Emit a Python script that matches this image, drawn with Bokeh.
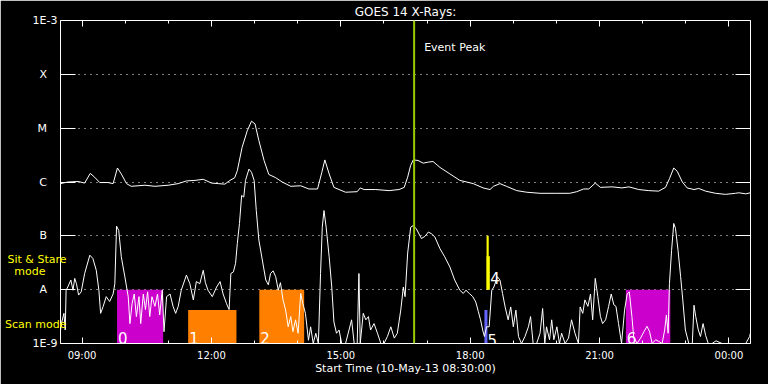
import numpy as np
from bokeh.plotting import figure
from bokeh.models import (Range1d, FixedTicker, LinearAxis, LogAxis,
                          CustomJSTickFormatter, Span, Label)
from bokeh.core.properties import value
from bokeh.embed import file_html
from bokeh.resources import INLINE

# ---------------- data ----------------
title_text = "GOES 14 X-Rays:"
x_label = "Start Time (10-May-13 08:30:00)"
hour_ticks = [9, 12, 15, 18, 21, 24]
hour_labels = ["09:00", "12:00", "15:00", "18:00", "21:00", "00:00"]
minor_hours = list(range(9, 25))
flux_exps = [-9, -8, -7, -6, -5, -4, -3]
flux_labels = ["1E-9", "A", "B", "C", "M", "X", "1E-3"]
grid_exps = [-8, -7, -6, -5, -4]
mode_exps = [-7.435, -7.66, -8.64]
mode_labels = ["Sit & Stare", "mode", "Scan mode"]

# long channel (1-8 A), hours since midnight of 10-May, log10 W/m^2
long_t = [8.50, 8.67, 8.91, 9.06, 9.19, 9.29, 9.41, 9.60, 9.72, 9.82,
          9.91, 10.03, 10.14, 10.46, 10.69, 11.00, 11.23, 11.42, 11.62, 11.81,
          12.00, 12.16, 12.31, 12.43, 12.54, 12.60, 12.71, 12.83, 12.93, 13.01,
          13.10, 13.22, 13.33, 13.49, 13.64, 13.84, 14.07, 14.26, 14.46, 14.56,
          14.63, 14.73, 14.84, 15.11, 15.38, 15.45, 15.54, 15.81, 16.12, 16.35,
          16.47, 16.55, 16.62, 16.68, 16.79, 16.91, 17.03, 17.14, 17.30, 17.53,
          17.76, 18.07, 18.30, 18.46, 18.54, 18.69, 18.84, 19.08, 19.31, 19.62,
          20.01, 20.31, 20.47, 20.63, 20.75, 20.90, 21.02, 21.29, 21.52, 21.68,
          21.91, 22.14, 22.37, 22.53, 22.62, 22.72, 22.80, 22.92, 23.03, 23.19,
          23.30, 23.46, 23.69, 23.92, 24.15, 24.23, 24.39, 24.50]
long_log = [-6.03, -6.00, -5.99, -6.02, -5.84, -5.91, -6.01, -6.01, -6.03, -5.74,
            -5.85, -6.03, -6.08, -6.06, -6.08, -6.06, -6.03, -5.98, -5.97, -5.95,
            -6.02, -6.03, -6.04, -5.97, -5.92, -5.79, -5.36, -5.05, -4.87, -4.92,
            -5.23, -5.60, -5.86, -5.92, -6.00, -6.08, -6.07, -6.13, -6.13, -5.82,
            -5.59, -5.85, -6.10, -6.19, -6.18, -6.11, -6.14, -6.14, -6.16, -6.14,
            -6.10, -5.91, -5.69, -5.59, -5.60, -5.65, -5.63, -5.62, -5.73, -5.85,
            -5.97, -6.03, -6.11, -6.14, -6.08, -6.03, -6.08, -6.16, -6.19, -6.21,
            -6.21, -6.21, -6.18, -6.13, -6.13, -6.02, -6.10, -6.09, -6.11, -6.09,
            -6.14, -6.16, -6.17, -6.10, -5.94, -5.74, -5.80, -6.00, -6.11, -6.14,
            -6.12, -6.17, -6.21, -6.23, -6.21, -6.20, -6.22, -6.20]

# short channel (0.5-4 A)
short_t = [8.50, 8.53, 8.58, 8.61, 8.63, 8.67, 8.74, 8.79, 8.83, 8.87,
           8.92, 8.98, 9.06, 9.18, 9.25, 9.33, 9.39, 9.43, 9.49, 9.56,
           9.64, 9.72, 9.76, 9.80, 9.85, 9.91, 9.99, 10.07, 10.11, 10.16,
           10.21, 10.26, 10.32, 10.36, 10.42, 10.47, 10.52, 10.57, 10.62, 10.69,
           10.75, 10.80, 10.86, 10.90, 10.96, 11.04, 11.11, 11.17, 11.23, 11.30,
           11.42, 11.50, 11.58, 11.65, 11.73, 11.81, 11.86, 11.92, 12.02, 12.12,
           12.20, 12.27, 12.35, 12.41, 12.45, 12.51, 12.56, 12.60, 12.65, 12.70,
           12.75, 12.79, 12.87, 12.93, 12.99, 13.04, 13.10, 13.18, 13.26, 13.32,
           13.37, 13.43, 13.49, 13.55, 13.60, 13.66, 13.72, 13.78, 13.84, 13.89,
           13.95, 14.01, 14.07, 14.12, 14.18, 14.25, 14.30, 14.36, 14.42, 14.48,
           14.53, 14.57, 14.61, 14.66, 14.73, 14.79, 14.84, 14.90, 14.96, 15.02,
           15.11, 15.19, 15.25, 15.31, 15.38, 15.42, 15.45, 15.52, 15.58, 15.64,
           15.69, 15.77, 15.85, 15.93, 16.00, 16.08, 16.16, 16.24, 16.31, 16.39,
           16.45, 16.49, 16.55, 16.62, 16.68, 16.75, 16.87, 16.95, 17.03, 17.10,
           17.18, 17.30, 17.41, 17.53, 17.64, 17.76, 17.84, 17.90, 17.98, 18.06,
           18.13, 18.19, 18.24, 18.29, 18.33, 18.38, 18.44, 18.50, 18.55, 18.63,
           18.69, 18.75, 18.81, 18.88, 18.94, 19.00, 19.06, 19.12, 19.19, 19.27,
           19.35, 19.40, 19.46, 19.54, 19.62, 19.68, 19.73, 19.77, 19.84, 19.89,
           19.94, 20.01, 20.07, 20.12, 20.20, 20.28, 20.35, 20.43, 20.51, 20.55,
           20.61, 20.66, 20.73, 20.79, 20.84, 20.90, 20.96, 21.02, 21.07, 21.14,
           21.21, 21.27, 21.33, 21.38, 21.44, 21.51, 21.58, 21.64, 21.69, 21.75,
           21.79, 21.87, 21.95, 22.03, 22.10, 22.16, 22.22, 22.30, 22.37, 22.45,
           22.51, 22.55, 22.59, 22.62, 22.67, 22.72, 22.76, 22.82, 22.88, 22.93,
           22.99, 23.07, 23.15, 23.19, 23.23, 23.29, 23.34, 23.40, 23.46, 23.52,
           23.61, 23.70, 23.84, 23.96, 24.15, 24.39, 24.48, 24.50]
short_log = [-8.75, -8.60, -8.44, -8.75, -8.01, -7.95, -7.82, -8.01, -7.79, -7.89,
             -8.10, -8.04, -7.70, -7.36, -7.42, -7.64, -8.01, -8.44, -8.31, -8.13,
             -8.22, -8.08, -7.89, -6.82, -6.90, -7.39, -7.75, -8.13, -8.63, -8.26,
             -8.08, -8.50, -8.13, -8.63, -8.08, -8.37, -8.04, -8.50, -8.13, -8.31,
             -8.08, -8.47, -8.01, -8.78, -8.13, -8.08, -8.31, -8.44, -8.31, -8.01,
             -7.73, -7.89, -8.19, -7.85, -7.89, -7.64, -7.87, -8.01, -8.13, -7.95,
             -7.85, -8.08, -8.26, -8.37, -7.70, -7.67, -7.51, -7.14, -6.77, -6.25,
             -6.28, -5.97, -5.76, -5.82, -5.97, -6.53, -7.08, -7.45, -7.82, -7.91,
             -7.70, -7.65, -7.76, -8.01, -7.87, -8.19, -8.38, -8.69, -8.50, -8.78,
             -8.56, -8.81, -8.07, -8.26, -8.44, -8.94, -8.69, -9.00, -8.81, -9.00,
             -7.70, -6.84, -6.53, -6.84, -7.39, -7.95, -8.60, -8.81, -8.75, -9.00,
             -9.00, -8.75, -8.56, -9.00, -9.00, -7.70, -9.00, -8.44, -8.56, -8.50,
             -8.75, -8.63, -8.81, -9.00, -9.00, -8.87, -8.69, -8.90, -8.81, -8.38,
             -7.95, -8.13, -7.32, -6.84, -6.81, -6.87, -7.05, -7.01, -6.93, -6.96,
             -7.02, -7.24, -7.39, -7.58, -7.82, -8.01, -8.07, -8.01, -8.07, -8.13,
             -8.23, -8.41, -8.56, -8.75, -8.87, -8.69, -8.69, -8.01, -7.95, -7.76,
             -7.82, -8.07, -8.32, -8.56, -8.32, -8.69, -8.38, -8.87, -9.00, -8.87,
             -8.69, -8.50, -9.00, -9.00, -8.81, -8.35, -9.00, -8.69, -8.93, -8.56,
             -8.93, -8.69, -9.00, -8.81, -9.00, -8.90, -8.56, -8.81, -9.00, -8.32,
             -8.44, -8.19, -8.31, -8.08, -8.56, -7.79, -8.13, -8.50, -8.63, -8.56,
             -8.31, -8.08, -8.28, -8.31, -8.63, -9.00, -8.38, -8.08, -8.04, -8.50,
             -8.87, -9.00, -8.90, -8.78, -8.68, -8.78, -9.00, -8.93, -8.96, -9.00,
             -8.75, -8.47, -8.81, -7.89, -7.27, -6.77, -6.86, -7.27, -7.76, -8.19,
             -8.75, -9.00, -9.00, -8.29, -8.50, -8.75, -8.87, -8.63, -8.85, -9.00,
             -9.00, -8.95, -9.00, -9.00, -9.00, -9.00, -8.87, -8.80]

# observation windows
rect_start = [9.81, 11.46, 13.11, 21.61]
rect_end = [10.88, 12.58, 14.15, 22.64]
rect_top_log = [-8.0, -8.38, -8.0, -8.0]
rect_colors = ["#CC00CC", "#FF8000", "#FF8000", "#CC00CC"]

scan_start = [18.33]
scan_end = [18.40]
scan_top_log = [-8.38]

stare_start = [18.38, 18.38]
stare_end = [18.43, 18.455]
stare_top_log = [-7.0, -7.38]
stare_bottom_log = [-8.0, -8.0]

label_text = ["0", "1", "2", "4", "5", "6"]
label_t = [9.81, 11.46, 13.11, 18.44, 18.38, 21.61]
label_log = [-8.90, -8.90, -8.90, -7.79, -8.93, -8.90]

event_peak = 16.70

# ---------------- figure ----------------
FONT = "DejaVu Sans"
p = figure(width=768, height=384, output_backend="svg", toolbar_location=None,
           y_axis_type="log", x_range=Range1d(8.5, 24.5),
           y_range=Range1d(10.0 ** flux_exps[0], 10.0 ** flux_exps[-1]),
           background_fill_color="black", border_fill_color="black",
           outline_line_color=None,
           min_border_left=60, min_border_right=18, min_border_top=19,
           min_border_bottom=41)
p.styles = {"position": "absolute", "left": "0px", "top": "0px"}

p.title.text = title_text
p.title.align = "center"
p.title.text_color = "white"
p.title.text_font = FONT
p.title.text_font_size = "12px"
p.title.text_font_style = "normal"
p.title.standoff = 4

def flux(arr):
    return [10.0 ** v for v in arr]

blank = CustomJSTickFormatter(code="return ''")
ytick_fmt = CustomJSTickFormatter(
    args=dict(exps=flux_exps, labels=flux_labels),
    code="const e = Math.round(Math.log10(tick));"
         "const i = exps.indexOf(e);"
         "if (i < 0) return '';"
         "const s = labels[i];"
         "return s.length == 1 ? s + '\\u00a0\\u00a0\\u00a0' : s;")
mode_fmt = CustomJSTickFormatter(
    args=dict(exps=mode_exps, labels=mode_labels),
    code="const e = Math.log10(tick);"
         "for (let i = 0; i < exps.length; i++) {"
         "  if (Math.abs(exps[i] - e) < 0.005) {"
         "    return labels[i] == 'mode' ? labels[i] + '\\u00a0'.repeat(6) : labels[i];"
         "  }"
         "}"
         "return '';")
hour_ticker = FixedTicker(ticks=hour_ticks, minor_ticks=minor_hours)
flux_ticker = FixedTicker(ticks=[10.0 ** e for e in flux_exps], minor_ticks=[])
mode_ticker = FixedTicker(ticks=[10.0 ** e for e in mode_exps], minor_ticks=[])

def style_axis(ax):
    ax.axis_line_color = "white"
    ax.major_tick_line_color = "white"
    ax.minor_tick_line_color = "white"
    ax.major_label_text_color = "white"
    ax.major_label_text_font = FONT
    ax.axis_label_text_color = "white"
    ax.axis_label_text_font = FONT
    ax.axis_label_text_font_style = "normal"

# bottom axis
xa = p.xaxis[0]
style_axis(xa)
xa.ticker = hour_ticker
xa.major_label_overrides = dict(zip(hour_ticks, hour_labels))
xa.major_tick_in = 6
xa.major_tick_out = 0
xa.minor_tick_in = 3
xa.minor_tick_out = 0
xa.major_label_text_font_size = "10px"
xa.major_label_standoff = 6
xa.axis_label = x_label
xa.axis_label_text_font_size = "11px"
xa.axis_label_standoff = -2

# top axis
xt = LinearAxis(ticker=hour_ticker, formatter=blank)
style_axis(xt)
xt.major_tick_in = 6
xt.major_tick_out = 0
xt.minor_tick_in = 3
xt.minor_tick_out = 0
xt.major_label_standoff = 0
xt.major_label_text_font_size = "1px"
p.add_layout(xt, "above")

# left axis (flux classes)
ya = p.yaxis[0]
style_axis(ya)
ya.ticker = flux_ticker
ya.formatter = ytick_fmt
ya.major_tick_in = 15
ya.major_tick_out = 0
ya.minor_tick_line_color = None
ya.major_label_text_font_size = "11px"
ya.major_label_standoff = 3

# outer left axis carrying the observing-mode captions
ym = LogAxis(ticker=mode_ticker, formatter=mode_fmt)
ym.axis_line_color = None
ym.major_tick_line_color = None
ym.minor_tick_line_color = None
ym.major_tick_in = 0
ym.major_tick_out = 0
ym.major_label_text_color = "#FFFF00"
ym.major_label_text_font = FONT
ym.major_label_text_font_size = "11px"
ym.major_label_standoff = -37
p.add_layout(ym, "left")

# right axis
yr = LogAxis(ticker=flux_ticker, formatter=blank)
style_axis(yr)
yr.major_tick_in = 15
yr.major_tick_out = 0
yr.minor_tick_line_color = None
yr.major_label_standoff = 0
yr.major_label_text_font_size = "1px"
p.add_layout(yr, "right")

# grids
p.xgrid.visible = False
p.ygrid.ticker = FixedTicker(ticks=[10.0 ** e for e in grid_exps])
p.ygrid.grid_line_color = "white"
p.ygrid.grid_line_dash = "1 5"
p.ygrid.grid_line_width = 1

# observation windows
base = 10.0 ** flux_exps[0]
p.quad(left=rect_start, right=rect_end, bottom=base, top=flux(rect_top_log),
       fill_color=rect_colors, line_color=None)
p.quad(left=scan_start, right=scan_end, bottom=base, top=flux(scan_top_log),
       fill_color="#6464FF", line_color=None)
p.quad(left=stare_start, right=stare_end, bottom=flux(stare_bottom_log),
       top=flux(stare_top_log), fill_color="#FFFF00", line_color=None)

# curves
p.line(long_t, flux(long_log), line_color="white", line_width=1)
p.line(short_t, flux(short_log), line_color="white", line_width=1)

# window labels
p.text(x=label_t, y=flux(label_log), text=label_text, text_color="white",
       text_font=value(FONT), text_font_size="15px", text_align="left",
       text_baseline="alphabetic", x_offset=1)

# event peak
p.add_layout(Span(location=event_peak, dimension="height",
                  line_color="#99CC00", line_width=2))
p.add_layout(Label(x=event_peak, y=10.0 ** flux_exps[-1], x_offset=10, y_offset=-27,
                   text="Event Peak", text_color="white", text_font=FONT,
                   text_font_size="11px", text_baseline="alphabetic"))

open("out.html", "w").write(file_html(p, INLINE))
